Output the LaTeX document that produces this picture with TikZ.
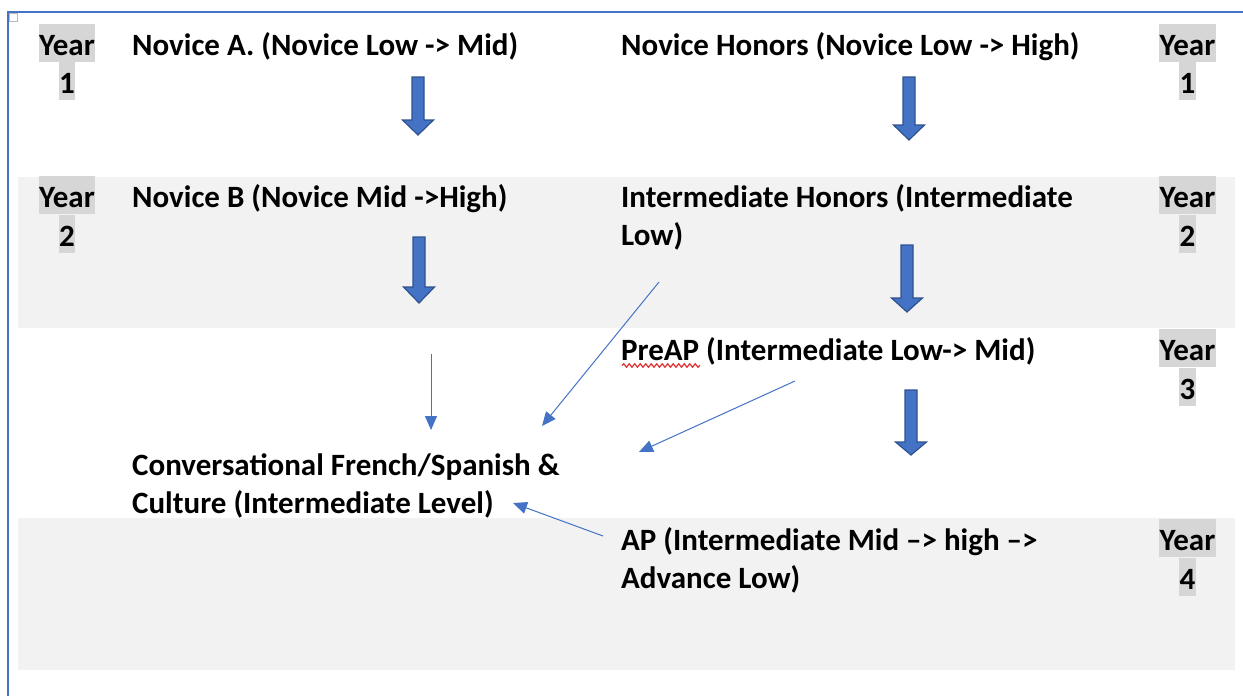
\documentclass[tikz,border=0pt]{standalone}
\usepackage{fontspec}
\setmainfont{Carlito}
\usetikzlibrary{arrows.meta,decorations.pathmorphing}
\definecolor{accent}{HTML}{4472C4}
\definecolor{accentdark}{HTML}{2F528F}
\definecolor{band}{HTML}{F2F2F2}
\definecolor{hl}{HTML}{D6D6D6}
\definecolor{wavy}{HTML}{E03030}
\newcommand\tstrut{\rule{0pt}{31.5pt}}
\newcommand\blkarrow[4]{% cx, top, headstart, tip
  \path[blk] (#1-6,#2) -- (#1+6,#2) -- (#1+6,#3) -- (#1+15.5,#3) -- (#1,#4) -- (#1-15.5,#3) -- (#1-6,#3) -- cycle;}
\tikzset{
  txt/.style={font=\fontsize{31}{38}\selectfont\bfseries, align=left, anchor=north west, inner sep=0pt},
  yr/.style={font=\fontsize{31}{38}\selectfont\bfseries, fill=hl, inner xsep=0.5pt, inner ysep=0pt,
             text height=31.5pt, text depth=6.5pt, anchor=north},
  thinarrow/.style={draw=accent, line width=1pt, -{Triangle[length=14pt,width=12pt]}},
  blk/.style={fill=accent, draw=accentdark, line width=1.2pt, line join=miter},
  bandfill/.style={fill=band, draw=none},
  frame/.style={draw=accent, line width=1.8pt}
}
\begin{document}
\begin{tikzpicture}[x=1pt,y=-1pt]
\useasboundingbox (0,0) rectangle (1243,696);
\fill[white] (0,0) rectangle (1243,696);
% bands
\path[bandfill] (18,177) rectangle (1235,328);
\path[bandfill] (18,518) rectangle (1235,670);
% frame
\draw[frame] (8,696) -- (8,12.3) -- (1243,12.3);
\draw[gray!55, line width=0.6pt, fill=white] (9,13.3) rectangle (17,21);
% year labels
\node[yr] (y1a) at (67,23.5) {Year};
\node[yr] (y1b) at (y1a.south) {1};
\node[yr] (y1c) at (1187.5,23.5) {Year};
\node[yr] (y1d) at (y1c.south) {1};
\node[yr] (y2a) at (67,176) {Year};
\node[yr] (y2b) at (y2a.south) {2};
\node[yr] (y2c) at (1187.5,176) {Year};
\node[yr] (y2d) at (y2c.south) {2};
\node[yr] (y3c) at (1187.5,329) {Year};
\node[yr] (y3d) at (y3c.south) {3};
\node[yr] (y4c) at (1187.5,519) {Year};
\node[yr] (y4d) at (y4c.south) {4};
% course texts
\node[txt] (na) at (132,23.5) {\tstrut Novice A. (Novice Low -> Mid)};
\node[txt] (nh) at (621,23.5) {\tstrut Novice Honors (Novice Low -> High)};
\node[txt] (nb) at (132,176) {\tstrut Novice B (Novice Mid ->High)};
\node[txt] (ih) at (621,176) {\tstrut Intermediate Honors (Intermediate\\Low)};
\node[txt] (pre) at (621,329) {\tstrut PreAP (Intermediate Low-> Mid)};
\node[txt] (conv) at (132,443.5) {\tstrut Conversational French/Spanish \&\\Culture (Intermediate Level)};
\node[txt] (ap) at (621,519) {\tstrut AP (Intermediate Mid –> high –>\\Advance Low)};
% spell-check underline
\draw[wavy, line width=1.2pt, decorate, decoration={snake, amplitude=1.7pt, segment length=5.5pt}] (622,365.5) -- (700,365.5);
% block arrows
\blkarrow{418}{77}{120}{135}
\blkarrow{419}{237}{287}{303}
\blkarrow{909}{77}{125}{140}
\blkarrow{907}{245}{298}{312}
\blkarrow{911}{390}{442}{455}
% thin arrows
\coordinate (t1s) at (431,354);
\coordinate (t1e) at (431,430);
\coordinate (t2s) at (659,282);
\coordinate (t2e) at (542,426);
\coordinate (t3s) at (795,381);
\coordinate (t3e) at (639,452);
\coordinate (t4s) at (603,536);
\coordinate (t4e) at (513,503);
\draw[thinarrow] (t1s) -- (t1e);
\draw[thinarrow] (t2s) -- (t2e);
\draw[thinarrow] (t3s) -- (t3e);
\draw[thinarrow] (t4s) -- (t4e);
\end{tikzpicture}
\end{document}
